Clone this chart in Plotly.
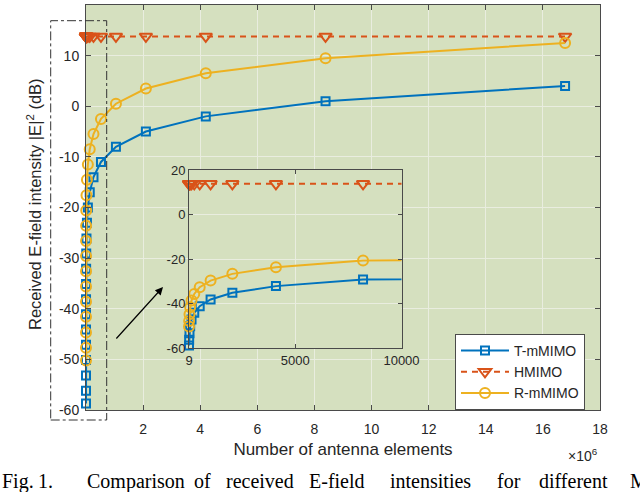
import plotly.graph_objects as go

# ---------------- data ----------------
N = [9, 16, 32, 64, 128, 256, 512, 1024, 2048, 4096, 8192, 16384, 32768, 65536,
     131072, 262144, 524288, 1048576, 2097152, 4194304, 8388608, 16777216]
t_mmimo = [-58.7, -56.2, -53.2, -50.1, -47.1, -44.1, -41.1, -38.1, -35.1, -32.1, -29.1,
           -26.1, -23.0, -20.0, -17.0, -14.0, -11.0, -8.0, -5.0, -2.0, 1.0, 4.0]
hmimo = [13.8, 13.8, 13.8, 13.8, 13.8, 13.8, 13.8, 13.8, 13.8, 13.8, 13.8,
         13.8, 13.8, 13.8, 13.8, 13.8, 13.8, 13.8, 13.8, 13.8, 13.8, 13.8]
r_mmimo = [-50.2, -47.7, -44.7, -41.6, -38.6, -35.6, -32.6, -29.6, -26.6, -23.6, -20.6,
           -17.6, -14.5, -11.5, -8.5, -5.5, -2.5, 0.5, 3.5, 6.5, 9.5, 12.5]
series_names = ["T-mMIMO", "HMIMO", "R-mMIMO"]

x_tickvals = [2e6, 4e6, 6e6, 8e6, 10e6, 12e6, 14e6, 16e6, 18e6]
x_ticktext = ["2", "4", "6", "8", "10", "12", "14", "16", "18"]
y_tickvals = [-60, -50, -40, -30, -20, -10, 0, 10, 20]
y_ticktext = ["-60", "-50", "-40", "-30", "-20", "-10", "0", "10", "20"]
inset_x_tickvals = [9, 5000, 10000]
inset_x_ticktext = ["9", "5000", "10000"]
inset_y_tickvals = [-60, -40, -20, 0, 20]
inset_y_ticktext = ["-60", "-40", "-20", "0", "20"]
inset_xmax = 10000

caption_words = ["Fig.", "1.", "Comparison", "of", "received", "E-field",
                 "intensities", "for", "different", "MIMO"]
caption_x_px = [0, 36, 85, 192, 224, 307, 388, 495, 537, 628]

# ---------------- style ----------------
W, H = 640, 492
ML, MR, MT, MB = 86, 40, 5, 82
PW, PH = W - ML - MR, H - MT - MB
BG = "#d5e0bf"
GRID = "#e9eddf"
AX = "#4a4a4a"
TXT = "#262626"
BLUE, ORANGE, YELLOW = "#0072BD", "#D95319", "#EDB120"
FONT = "Liberation Sans"


def px(xp):
    return (xp - ML) / PW


def py(yp):
    return (H - MB - yp) / PH


styles = [
    dict(color=BLUE, symbol="square-open", size=8, dash="solid"),
    dict(color=ORANGE, symbol="triangle-down-open", size=11, dash="6px,5px"),
    dict(color=YELLOW, symbol="circle-open", size=10, dash="solid"),
]
values = [t_mmimo, hmimo, r_mmimo]

fig = go.Figure()

# main traces
for name, vals, st in zip(series_names, values, styles):
    fig.add_trace(go.Scatter(
        x=N, y=vals, name=name, mode="lines+markers",
        line=dict(color=st["color"], width=2, dash=st["dash"]),
        marker=dict(symbol=st["symbol"], size=st["size"], color=st["color"],
                    line=dict(width=2, color=st["color"])),
        cliponaxis=False, xaxis="x", yaxis="y", showlegend=True))

# inset traces: lines (clipped) + markers (in range, unclipped)
for name, vals, st in zip(series_names, values, styles):
    fig.add_trace(go.Scatter(
        x=N, y=vals, mode="lines", line=dict(color=st["color"], width=2, dash=st["dash"]),
        xaxis="x2", yaxis="y2", showlegend=False, hoverinfo="skip"))
    xs = [n for n in N if n <= inset_xmax]
    ys = [v for n, v in zip(N, vals) if n <= inset_xmax]
    fig.add_trace(go.Scatter(
        x=xs, y=ys, mode="markers",
        marker=dict(symbol=st["symbol"], size=st["size"], color=st["color"],
                    line=dict(width=2, color=st["color"])),
        cliponaxis=False, xaxis="x2", yaxis="y2", showlegend=False))

axis_common = dict(showline=True, linecolor=AX, linewidth=1, mirror="ticks",
                   ticks="inside", tickcolor=AX, showgrid=True, gridcolor=GRID,
                   gridwidth=1, zeroline=False, tickfont=dict(family=FONT, size=14, color=TXT))

fig.update_layout(
    width=W, height=H,
    margin=dict(l=ML, r=MR, t=MT, b=MB, autoexpand=False),
    paper_bgcolor="white", plot_bgcolor=BG,
    font=dict(family=FONT, color=TXT),
    xaxis=dict(axis_common, domain=[0, 1], range=[9, 18e6], tickvals=x_tickvals,
               ticktext=x_ticktext, ticklen=5, anchor="y", ticklabelstandoff=6,
               title=dict(text="Number of antenna elements", font=dict(size=17, family=FONT, color=TXT),
                          standoff=7)),
    yaxis=dict(axis_common, domain=[0, 1], range=[-60, 20], tickvals=y_tickvals,
               ticktext=y_ticktext, ticklen=5, anchor="x", ticklabelstandoff=3),
    xaxis2=dict(axis_common, domain=[px(189), px(401.5)], range=[9, inset_xmax],
                tickvals=inset_x_tickvals, ticktext=inset_x_ticktext, ticklen=4, anchor="y2",
                tickfont=dict(family=FONT, size=13, color=TXT)),
    yaxis2=dict(axis_common, domain=[py(348.3), py(170)], range=[-60, 20],
                tickvals=inset_y_tickvals, ticktext=inset_y_ticktext, ticklen=4, anchor="x2",
                tickfont=dict(family=FONT, size=13, color=TXT)),
    legend=dict(x=px(585), y=py(334), xanchor="right", yanchor="top",
                bgcolor="white", bordercolor=AX, borderwidth=1, itemwidth=48,
                font=dict(family=FONT, size=14, color=TXT), tracegroupgap=0),
    showlegend=True,
)

# y-axis title (annotation for exact placement)
fig.add_annotation(xref="paper", yref="paper", x=px(34), y=py(204),
                   text="Received E-field intensity |E|<sup>2</sup> (dB)", textangle=-90,
                   showarrow=False, xanchor="center", yanchor="middle",
                   font=dict(family=FONT, size=16.5, color=TXT))

# opaque background for inset (hides main grid)
fig.add_shape(type="rect", xref="x2 domain", yref="y2 domain", x0=0, x1=1, y0=0, y1=1,
              fillcolor=BG, line=dict(width=0), layer="below")

# dash-dot zoom box
fig.add_shape(type="rect", xref="paper", yref="paper",
              x0=px(50.7), x1=px(106.7), y0=py(420), y1=py(20.7),
              line=dict(color="#333333", width=1, dash="dashdot"), layer="above")

# arrow
fig.add_annotation(xref="paper", yref="paper", x=px(163), y=py(287), ax=115 - 163, ay=340 - 287,
                   text="", showarrow=True, arrowhead=2, arrowsize=1.3, arrowwidth=1.2,
                   arrowcolor="black")

# x10^6
fig.add_annotation(xref="paper", yref="paper", x=px(583), y=py(455), text="×10<sup>6</sup>",
                   showarrow=False, font=dict(family=FONT, size=14, color=TXT),
                   xanchor="center", yanchor="middle")

# caption
for wd, xp in zip(caption_words, caption_x_px):
    fig.add_annotation(xref="paper", yref="paper", x=px(xp), y=py(481), text=wd,
                       showarrow=False, xanchor="left", yanchor="middle",
                       font=dict(family="Liberation Serif", size=20, color="black"))

fig.write_html("out.html", config={"displayModeBar": False},
               post_script="document.body.style.margin='0px';document.body.style.overflow='hidden';")
